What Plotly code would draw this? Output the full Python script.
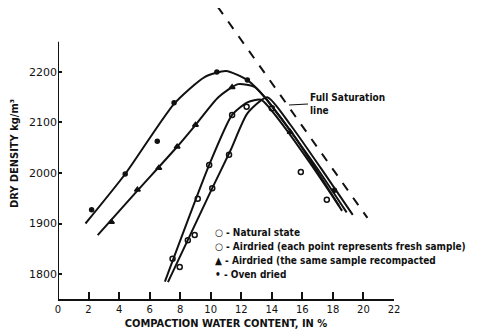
import plotly.graph_objects as go

# ---- data ----
# Oven dried (filled dots)
oven_curve_x = [1.8, 4.4, 7.6, 9.6, 11.0, 12.4, 13.6, 15.0, 17.0, 18.9]
oven_curve_y = [1900, 1998, 2137, 2190, 2202, 2184, 2148, 2092, 2008, 1922]
oven_pts_x = [2.2, 4.4, 6.5, 7.6, 10.4, 12.4, 18.1]
oven_pts_y = [1927, 1998, 2063, 2139, 2200, 2184, 1966]

# Airdried, same sample recompacted (triangles)
tri_curve_x = [2.6, 5.2, 7.8, 9.0, 10.5, 11.8, 12.9, 13.8, 15.5, 18.6]
tri_curve_y = [1877, 1965, 2052, 2095, 2150, 2176, 2170, 2140, 2072, 1925]
tri_pts_x = [3.5, 5.2, 6.6, 7.8, 9.0, 11.4, 15.2]
tri_pts_y = [1903, 1967, 2010, 2052, 2095, 2170, 2081]

# Natural state (open circles, left steep curve)
nat_curve_x = [7.0, 9.9, 11.4, 12.4, 13.3, 14.8, 16.5, 18.4]
nat_curve_y = [1785, 2016, 2115, 2140, 2145, 2092, 2020, 1935]
nat_pts_x = [7.5, 9.15, 9.9, 11.4, 14.0, 15.9]
nat_pts_y = [1830, 1949, 2016, 2115, 2128, 2002]

# Airdried, each point a fresh sample (open circles, right steep curve)
air_curve_x = [7.2, 10.1, 11.3, 12.4, 13.7, 15.2, 17.2, 19.3]
air_curve_y = [1784, 1970, 2045, 2118, 2150, 2096, 2010, 1917]
air_pts_x = [7.97, 8.5, 8.95, 10.1, 11.2, 12.35, 17.6]
air_pts_y = [1814, 1867, 1877, 1970, 2036, 2131, 1947]

# Full saturation line
sat_x = [10.46, 20.26]
sat_y = [2329, 1911]

x_ticks = [0, 2, 4, 6, 8, 10, 12, 14, 16, 18, 20, 22]
y_ticks = [1800, 1900, 2000, 2100, 2200]

legend_lines = [
    "○ - Natural state",
    "○ - Airdried (each point represents fresh sample)",
    "▲ - Airdried (the same sample recompacted",
    "• - Oven dried",
]

BLACK = "#111111"
FONT = "DejaVu Sans Condensed, DejaVu Sans"
fig = go.Figure()

def curve(x, y):
    fig.add_trace(go.Scatter(x=x, y=y, mode="lines",
                             line=dict(color=BLACK, width=2, shape="spline", smoothing=0.6),
                             showlegend=False, hoverinfo="skip"))

def pts(x, y, symbol, size, name):
    fig.add_trace(go.Scatter(x=x, y=y, mode="markers", name=name,
                             marker=dict(symbol=symbol, size=size, color=BLACK,
                                         line=dict(color=BLACK, width=1.5)),
                             showlegend=False))

curve(oven_curve_x, oven_curve_y)
curve(tri_curve_x, tri_curve_y)
curve(nat_curve_x, nat_curve_y)
curve(air_curve_x, air_curve_y)
pts(oven_pts_x, oven_pts_y, "circle", 4, "Oven dried")
pts(tri_pts_x, tri_pts_y, "triangle-up", 5, "Airdried (same sample)")
pts(nat_pts_x, nat_pts_y, "circle-open", 5, "Natural state")
pts(air_pts_x, air_pts_y, "circle-open", 5, "Airdried (fresh sample)")

fig.add_trace(go.Scatter(x=sat_x, y=sat_y, mode="lines",
                         line=dict(color=BLACK, width=2, dash="dash"),
                         showlegend=False, hoverinfo="skip"))

# y axis line (stops short of the top like the original)
fig.add_shape(type="line", xref="x", yref="y", x0=0, x1=0, y0=1750.5, y1=2260,
              line=dict(color=BLACK, width=2))

# page has an 8px body margin; plot area in page pixels: x 58..394, y 8..299
def paper_x(px):
    return (px - 58) / 336.0

def paper_y(py):
    return 1 - (py - 8) / 291.0

fig.add_annotation(x=paper_x(289), y=paper_y(105), xref="paper", yref="paper",
                   text="<b>Full Saturation<br>line</b>", showarrow=True,
                   arrowhead=0, arrowwidth=1.2, arrowcolor=BLACK,
                   ax=19, ay=-1, axref="pixel", ayref="pixel",
                   xanchor="left", yanchor="middle", align="left",
                   font=dict(family=FONT, size=10, color=BLACK))

for i, t in enumerate(legend_lines):
    fig.add_annotation(x=paper_x(213), y=paper_y(232 + i * 14), xref="paper", yref="paper",
                       text="<b>" + t + "</b>", showarrow=False,
                       xanchor="left", yanchor="middle",
                       font=dict(family=FONT, size=10, color=BLACK))

fig.update_layout(
    width=480, height=334,
    margin=dict(l=50, r=94, t=0, b=43),
    paper_bgcolor="white", plot_bgcolor="white",
    showlegend=False,
    font=dict(family="DejaVu Sans", color=BLACK),
    xaxis=dict(range=[0, 22], tickvals=x_ticks, ticktext=[str(v) for v in x_ticks],
               ticks="inside", ticklen=7, tickwidth=1.5, tickcolor=BLACK,
               showline=True, linecolor=BLACK, linewidth=2,
               showgrid=False, zeroline=False, automargin=False,
               tickfont=dict(size=10, family="DejaVu Sans"),
               title=dict(text="<b>COMPACTION WATER CONTENT, IN %</b>", standoff=5,
                          font=dict(size=11, family=FONT))),
    yaxis=dict(range=[1750.5, 2326.7], tickvals=y_ticks, ticktext=[str(v) for v in y_ticks],
               ticks="inside", ticklen=4, tickwidth=1.5, tickcolor=BLACK,
               showline=False, showgrid=False, zeroline=False, automargin=False,
               tickfont=dict(size=11, family="DejaVu Sans"),
               title=dict(text="<b>DRY DENSITY kg/m³</b>", standoff=12,
                          font=dict(size=11, family=FONT))),
)

fig.write_html("out.html")
